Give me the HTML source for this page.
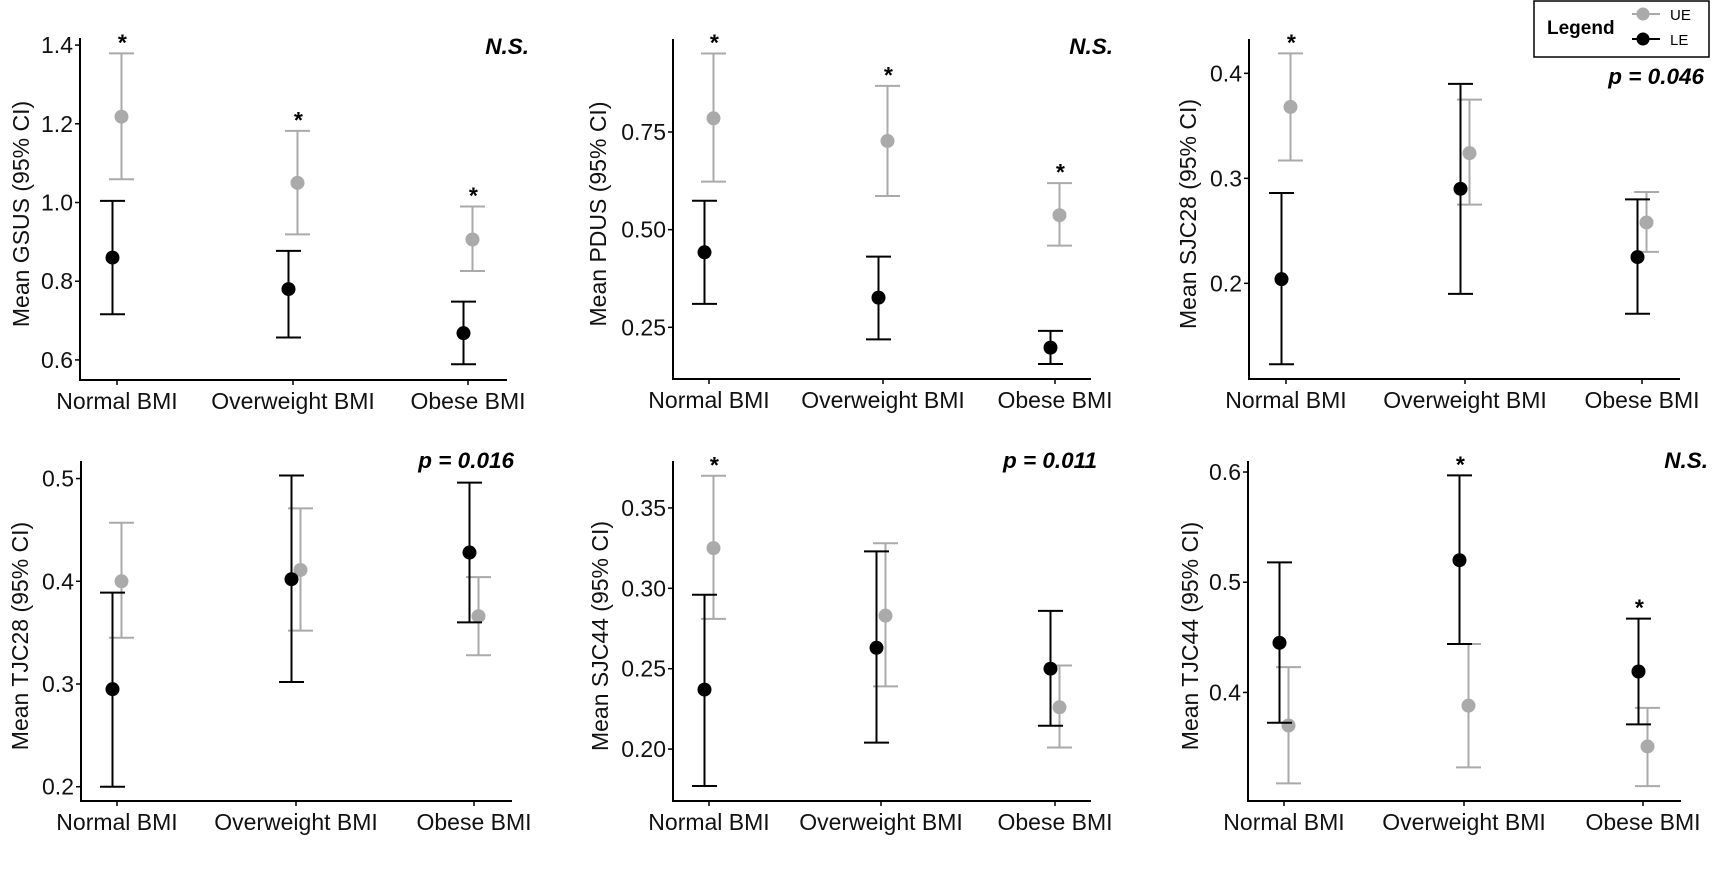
<!DOCTYPE html>
<html><head><meta charset="utf-8"><style>
html,body{margin:0;padding:0;background:#fff;}
svg{display:block;font-family:"Liberation Sans",Arial,sans-serif;}
</style></head><body>
<svg id="fig" width="1718" height="872" viewBox="0 0 1718 872" xmlns="http://www.w3.org/2000/svg">
<g>
<rect x="1534" y="1" width="175" height="56" fill="#fff" stroke="#000" stroke-width="1.5"/>
<text x="1547" y="34" font-size="19" font-weight="bold" font-family="Liberation Sans, sans-serif">Legend</text>
<line x1="1632" y1="14" x2="1660" y2="14" stroke="#aaa" stroke-width="2"/>
<circle cx="1643" cy="14" r="6.5" fill="#aaa"/>
<text x="1670" y="20" font-size="15">UE</text>
<line x1="1632" y1="39" x2="1660" y2="39" stroke="#000" stroke-width="2"/>
<circle cx="1643" cy="39" r="6.5" fill="#000"/>
<text x="1670" y="45" font-size="15">LE</text>
</g>
</svg>
<script>
const categories = ["Normal BMI","Overweight BMI","Obese BMI"];
// Panel 1: GSUS
const gsusTicks = [0.6,0.8,1.0,1.2,1.4];
const gsusUEMean = [1.218,1.050,0.906];
const gsusUELo = [1.059,0.919,0.826];
const gsusUEHi = [1.379,1.182,0.990];
const gsusLEMean = [0.860,0.780,0.668];
const gsusLELo = [0.716,0.657,0.589];
const gsusLEHi = [1.004,0.877,0.748];
// Panel 2: PDUS
const pdusTicks = [0.25,0.50,0.75];
const pdusUEMean = [0.785,0.727,0.537];
const pdusUELo = [0.623,0.586,0.459];
const pdusUEHi = [0.951,0.868,0.619];
const pdusLEMean = [0.442,0.326,0.198];
const pdusLELo = [0.310,0.219,0.156];
const pdusLEHi = [0.574,0.431,0.241];
// Panel 3: SJC28
const sjc28Ticks = [0.2,0.3,0.4];
const sjc28UEMean = [0.368,0.324,0.258];
const sjc28UELo = [0.317,0.275,0.230];
const sjc28UEHi = [0.419,0.375,0.287];
const sjc28LEMean = [0.204,0.290,0.225];
const sjc28LELo = [0.123,0.190,0.171];
const sjc28LEHi = [0.286,0.390,0.280];
// Panel 4: TJC28
const tjc28Ticks = [0.2,0.3,0.4,0.5];
const tjc28UEMean = [0.400,0.411,0.366];
const tjc28UELo = [0.345,0.352,0.328];
const tjc28UEHi = [0.457,0.471,0.404];
const tjc28LEMean = [0.295,0.402,0.428];
const tjc28LELo = [0.200,0.302,0.360];
const tjc28LEHi = [0.389,0.503,0.496];
// Panel 5: SJC44
const sjc44Ticks = [0.20,0.25,0.30,0.35];
const sjc44UEMean = [0.325,0.283,0.226];
const sjc44UELo = [0.281,0.239,0.201];
const sjc44UEHi = [0.370,0.328,0.252];
const sjc44LEMean = [0.237,0.263,0.250];
const sjc44LELo = [0.177,0.204,0.2145];
const sjc44LEHi = [0.296,0.323,0.286];
// Panel 6: TJC44
const tjc44Ticks = [0.4,0.5,0.6];
const tjc44UEMean = [0.370,0.388,0.351];
const tjc44UELo = [0.3175,0.332,0.315];
const tjc44UEHi = [0.423,0.444,0.386];
const tjc44LEMean = [0.445,0.520,0.419];
const tjc44LELo = [0.3725,0.444,0.371];
const tjc44LEHi = [0.518,0.597,0.467];

const panels = [
 {id:"gsus",title:"Mean GSUS (95% CI)",note:"N.S.",ticks:gsusTicks,fmt:1,ue:[gsusUEMean,gsusUELo,gsusUEHi],le:[gsusLEMean,gsusLELo,gsusLEHi],starUE:[1,1,1],starLE:[0,0,0],
  L:80,R:507,T:38,B:380,dTop:1.418,dBot:0.549,cx:[117,293,468],tx:21,noteX:529,noteY:54},
 {id:"pdus",title:"Mean PDUS (95% CI)",note:"N.S.",ticks:pdusTicks,fmt:2,ue:[pdusUEMean,pdusUELo,pdusUEHi],le:[pdusLEMean,pdusLELo,pdusLEHi],starUE:[1,1,1],starLE:[0,0,0],
  L:673,R:1091,T:39,B:379,dTop:0.988,dBot:0.1177,cx:[709,883,1055],tx:598,noteX:1113,noteY:54},
 {id:"sjc28",title:"Mean SJC28 (95% CI)",note:"p = 0.046",ticks:sjc28Ticks,fmt:1,ue:[sjc28UEMean,sjc28UELo,sjc28UEHi],le:[sjc28LEMean,sjc28LELo,sjc28LEHi],starUE:[1,0,0],starLE:[0,0,0],
  L:1249,R:1680,T:39,B:379,dTop:0.4327,dBot:0.1089,cx:[1286,1465,1642],tx:1188,noteX:1704,noteY:84},
 {id:"tjc28",title:"Mean TJC28 (95% CI)",note:"p = 0.016",ticks:tjc28Ticks,fmt:1,ue:[tjc28UEMean,tjc28UELo,tjc28UEHi],le:[tjc28LEMean,tjc28LELo,tjc28LEHi],starUE:[0,0,0],starLE:[0,0,0],
  L:81,R:512,T:461,B:801,dTop:0.5171,dBot:0.1861,cx:[117,296,474],tx:20,noteX:514,noteY:468},
 {id:"sjc44",title:"Mean SJC44 (95% CI)",note:"p = 0.011",ticks:sjc44Ticks,fmt:2,ue:[sjc44UEMean,sjc44UELo,sjc44UEHi],le:[sjc44LEMean,sjc44LELo,sjc44LEHi],starUE:[1,0,0],starLE:[0,0,0],
  L:673,R:1091,T:461,B:801,dTop:0.3792,dBot:0.1677,cx:[709,881,1055],tx:600,noteX:1097,noteY:468},
 {id:"tjc44",title:"Mean TJC44 (95% CI)",note:"N.S.",ticks:tjc44Ticks,fmt:1,ue:[tjc44UEMean,tjc44UELo,tjc44UEHi],le:[tjc44LEMean,tjc44LELo,tjc44LEHi],starUE:[0,0,0],starLE:[0,1,1],
  L:1248,R:1681,T:461,B:801,dTop:0.61,dBot:0.3015,cx:[1284,1464,1643],tx:1190,noteX:1708,noteY:468}
];
const NS="http://www.w3.org/2000/svg";
const svg=document.getElementById("fig");
function mk(tag,attrs,parent,txt){const e=document.createElementNS(NS,tag);for(const k in attrs)e.setAttribute(k,attrs[k]);if(txt!==undefined)e.textContent=txt;parent.appendChild(e);return e;}
panels.forEach(p=>{
 const g=mk("g",{},svg);
 
 
 const y=v=>p.T+(p.dTop-v)*(p.B-p.T)/(p.dTop-p.dBot);
 const ax=mk("path",{d:`M${p.L},${p.T}V${p.B}H${p.R}`,fill:"none",stroke:"#000","stroke-width":2},g);
 
 
 p.ticks.forEach(t=>{
  const yy=y(t);
  mk("line",{x1:p.L-5,x2:p.L,y1:yy,y2:yy,stroke:"#000","stroke-width":1.5},g);
  const tl=mk("text",{x:p.L-7,y:yy+8,"text-anchor":"end","font-size":23,fill:"#111"},g,t.toFixed(p.fmt));
  
  
 });
 categories.forEach((c,i)=>{
  mk("line",{x1:p.cx[i],x2:p.cx[i],y1:p.B,y2:p.B+5,stroke:"#000","stroke-width":1.5},g);
  const cl=mk("text",{x:p.cx[i],y:p.B+29,"text-anchor":"middle","font-size":23,fill:"#111"},g,c);
  
  
 });
 const cy=(p.T+p.B)/2+5;
 const tt=mk("text",{x:p.tx,y:cy,"text-anchor":"middle","font-size":23,fill:"#111",transform:`rotate(-90 ${p.tx} ${cy})`,dy:"8"},g,p.title);
 
 
 const nt=mk("text",{x:p.noteX,y:p.noteY,"text-anchor":"end","font-size":22.5,"font-weight":"bold","font-style":"italic",fill:"#000"},g,p.note);
 
 
 const series=[{d:p.le,col:"#000",off:-4.5,name:"le",star:p.starLE},{d:p.ue,col:"#aaa",off:4.5,name:"ue",star:p.starUE}];
 [series[1],series[0]].forEach(s=>{
  categories.forEach((c,i)=>{
   const x=p.cx[i]+s.off;
   const m=s.d[0][i],lo=s.d[1][i],hi=s.d[2][i];
   const eb=mk("path",{d:`M${x-12.5},${y(hi)}H${x+12.5}M${x},${y(hi)}V${y(lo)}M${x-12.5},${y(lo)}H${x+12.5}`,fill:"none",stroke:s.col,"stroke-width":2},g);
   
   
   const pt=mk("circle",{cx:x,cy:y(m),r:7,fill:s.col},g);
   
   
   if(s.star[i]){
    const st=mk("text",{x:x,y:y(hi)-3,"text-anchor":"middle","font-size":23,"font-weight":"bold","font-style":"italic",fill:"#000"},g,"*");
    
    
   }
  });
 });
});
</script>
</body></html>
